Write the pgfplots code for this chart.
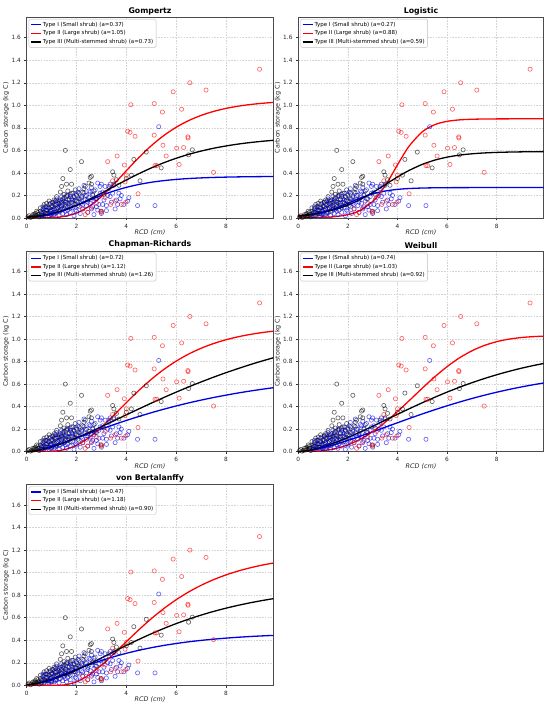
\documentclass[border=0pt]{standalone}
\usepackage{fontspec}
\setmainfont{DejaVu Sans}
\usepackage{pgfplots}
\usepackage{pgfplotstable}
\pgfplotsset{compat=1.18}

\definecolor{cblue}{RGB}{0,0,230}
\definecolor{cred}{RGB}{255,0,0}
\definecolor{cblack}{RGB}{0,0,0}

% ---------- scatter data (same in all panels) ----------
\pgfplotstableread{
x y
0.55 0.02
0.60 0.05
0.65 0.10
0.70 0.03
0.70 0.09
0.75 0.07
0.80 0.04
0.85 0.09
0.90 0.02
0.90 0.12
0.95 0.06
0.95 0.03
1.00 0.04
1.00 0.10
1.05 0.14
1.05 0.07
1.10 0.03
1.10 0.08
1.15 0.12
1.15 0.04
1.20 0.05
1.20 0.17
1.25 0.09
1.25 0.15
1.30 0.02
1.30 0.13
1.35 0.06
1.35 0.11
1.40 0.10
1.40 0.19
1.45 0.04
1.45 0.16
1.50 0.08
1.50 0.15
1.55 0.12
1.55 0.06
1.60 0.03
1.60 0.20
1.65 0.07
1.65 0.13
1.70 0.11
1.70 0.17
1.75 0.05
1.75 0.19
1.80 0.14
1.80 0.22
1.85 0.09
1.85 0.16
1.90 0.02
1.90 0.18
1.95 0.12
1.95 0.07
2.00 0.06
2.00 0.21
2.05 0.15
2.05 0.23
2.10 0.10
2.10 0.26
2.15 0.04
2.15 0.17
2.20 0.19
2.20 0.13
2.25 0.08
2.25 0.12
2.30 0.29
2.30 0.22
2.35 0.16
2.35 0.20
2.40 0.11
2.45 0.05
2.45 0.14
2.50 0.24
2.50 0.18
2.55 0.13
2.55 0.23
2.60 0.27
2.60 0.08
2.65 0.21
2.65 0.10
2.70 0.15
2.70 0.03
2.75 0.25
2.75 0.17
2.80 0.10
2.85 0.31
2.85 0.07
2.90 0.19
2.90 0.12
2.95 0.28
2.95 0.22
3.00 0.04
3.00 0.30
3.05 0.23
3.05 0.12
3.10 0.16
3.15 0.28
3.20 0.11
3.20 0.065
3.25 0.20
3.30 0.26
3.35 0.19
3.35 0.30
3.40 0.14
3.45 0.22
3.50 0.29
3.55 0.08
3.60 0.16
3.65 0.12
3.70 0.22
3.75 0.17
3.80 0.20
3.90 0.12
4.05 0.15
4.10 0.18
4.45 0.11
5.15 0.11
5.30 0.81
}\scI

\pgfplotstableread{
x y
3.25 0.50
3.63 0.55
3.92 0.47
3.95 0.32
4.00 0.38
3.45 0.33
4.05 0.77
4.15 0.76
4.18 1.005
4.35 0.725
5.12 1.015
5.12 0.735
5.15 0.465
5.22 0.465
5.45 0.94
5.47 0.645
5.60 0.55
5.88 1.12
6.02 0.62
6.12 0.475
6.22 0.965
6.30 0.625
6.47 0.72
6.48 0.71
6.55 1.20
7.20 1.135
7.50 0.405
9.35 1.32
3.55 0.15
3.80 0.12
3.98 0.14
4.47 0.215
3.37 0.12
2.97 0.06
3.00 0.05
2.25 0.08
2.45 0.05
2.60 0.09
2.35 0.03
3.15 0.18
2.80 0.13
}\scII

\pgfplotstableread{
x y
0.05 0.01
0.10 0.02
0.15 0.005
0.20 0.01
0.25 0.03
0.30 0.015
0.30 0.03
0.35 0.04
0.35 0.02
0.40 0.02
0.40 0.06
0.45 0.05
0.45 0.03
0.50 0.01
0.50 0.03
0.55 0.06
0.55 0.09
0.60 0.04
0.60 0.02
0.65 0.08
0.65 0.05
0.70 0.02
0.70 0.05
0.70 0.12
0.75 0.10
0.75 0.04
0.80 0.07
0.80 0.13
0.80 0.10
0.85 0.04
0.85 0.07
0.90 0.09
0.90 0.15
0.90 0.04
0.95 0.06
0.95 0.13
1.00 0.11
1.00 0.03
1.00 0.07
1.05 0.14
1.05 0.10
1.10 0.08
1.10 0.16
1.10 0.12
1.15 0.05
1.15 0.15
1.20 0.12
1.20 0.19
1.20 0.08
1.25 0.09
1.25 0.13
1.30 0.15
1.30 0.06
1.30 0.10
1.35 0.23
1.35 0.16
1.40 0.28
1.40 0.11
1.40 0.14
1.45 0.35
1.45 0.17
1.45 0.12
1.50 0.21
1.50 0.08
1.50 0.18
1.55 0.60
1.55 0.14
1.55 0.10
1.60 0.30
1.60 0.19
1.60 0.14
1.65 0.24
1.65 0.10
1.65 0.20
1.70 0.16
1.70 0.13
1.75 0.43
1.75 0.21
1.75 0.09
1.80 0.30
1.80 0.17
1.85 0.13
1.85 0.22
1.90 0.19
1.90 0.12
1.95 0.25
1.95 0.16
2.00 0.15
2.00 0.20
2.05 0.11
2.10 0.22
2.10 0.17
2.20 0.50
2.20 0.18
2.25 0.23
2.30 0.26
2.35 0.28
2.40 0.20
2.45 0.16
2.50 0.31
2.55 0.36
2.60 0.37
2.60 0.30
2.65 0.20
2.70 0.24
2.80 0.17
3.00 0.06
3.10 0.21
3.30 0.28
3.45 0.41
3.50 0.38
3.50 0.30
3.60 0.34
3.70 0.29
4.00 0.35
4.20 0.38
4.30 0.52
4.55 0.33
4.80 0.585
5.40 0.445
6.50 0.56
6.65 0.605
}\scIII

% ---------- fitted curves: x, Type I (b), Type II (r), Type III (k) ----------
\pgfplotstableread{
x b r k
0 0.0031 0.0000 0.0082
0.5 0.0124 0.0003 0.0199
1 0.0332 0.0029 0.0405
1.5 0.0668 0.0139 0.0717
2 0.1098 0.0440 0.1134
2.5 0.1563 0.1026 0.1637
3 0.2007 0.1907 0.2200
3.5 0.2397 0.3003 0.2788
4 0.2719 0.4194 0.3372
4.5 0.2973 0.5357 0.3927
5 0.3169 0.6409 0.4439
5.5 0.3315 0.7310 0.4898
6 0.3422 0.8050 0.5299
6.5 0.3501 0.8641 0.5645
7 0.3557 0.9101 0.5938
7.5 0.3598 0.9455 0.6186
8 0.3627 0.9723 0.6391
8.5 0.3648 0.9925 0.6562
9 0.3663 1.0075 0.6701
9.5 0.3674 1.0186 0.6815
9.9 0.3680 1.0254 0.6891
}\gomp

\pgfplotstableread{
x b r k
0 0.0142 0.0009 0.0205
0.5 0.0273 0.0022 0.0323
1 0.0501 0.0053 0.0502
1.5 0.0851 0.0126 0.0768
2 0.1302 0.0295 0.1144
2.5 0.1765 0.0677 0.1645
3 0.2140 0.1466 0.2262
3.25 0.2280 0.2080 0.2601
3.5 0.2391 0.2852 0.2950
3.75 0.2475 0.3750 0.3299
4 0.2538 0.4707 0.3638
4.25 0.2584 0.5636 0.3959
4.5 0.2617 0.6459 0.4255
5 0.2659 0.7645 0.4756
5.5 0.2679 0.8278 0.5132
6 0.2690 0.8575 0.5398
6.5 0.2695 0.8705 0.5578
7 0.2697 0.8760 0.5695
7.5 0.2699 0.8783 0.5771
8 0.2700 0.8793 0.5819
8.5 0.2700 0.8797 0.5849
9 0.2700 0.8799 0.5868
9.5 0.2700 0.8800 0.5880
9.9 0.2700 0.8800 0.5888
}\logi

\pgfplotstableread{
x b r k
0 0 0 0
0.5 0.0167 0.0001 0.0124
1 0.0469 0.0026 0.0403
1.5 0.0830 0.0176 0.0781
2 0.1220 0.0568 0.1225
2.5 0.1619 0.1248 0.1710
3 0.2015 0.2171 0.2220
3.5 0.2401 0.3238 0.2744
4 0.2772 0.4353 0.3270
4.5 0.3123 0.5430 0.3793
5 0.3456 0.6418 0.4305
5.5 0.3768 0.7292 0.4803
6 0.4058 0.8035 0.5284
6.5 0.4328 0.8662 0.5747
7 0.4576 0.9176 0.6189
7.5 0.4807 0.9595 0.6610
8 0.5018 0.9933 0.7011
8.5 0.5214 1.0202 0.7386
9 0.5392 1.0416 0.7745
9.5 0.5556 1.0585 0.8080
9.9 0.5676 1.0695 0.8332
}\chap

\pgfplotstableread{
x b r k
0 0 0 0
0.5 0.0125 0.0013 0.0146
1 0.0359 0.0090 0.0436
1.5 0.0659 0.0276 0.0817
2 0.1002 0.0608 0.1260
2.5 0.1376 0.1106 0.1747
3 0.1767 0.1776 0.2259
3.5 0.2167 0.2603 0.2787
4 0.2567 0.3556 0.3314
4.5 0.2963 0.4584 0.3835
5 0.3349 0.5630 0.4341
5.5 0.3718 0.6633 0.4824
6 0.4071 0.7544 0.5285
6.5 0.4404 0.8321 0.5716
7 0.4717 0.8946 0.6118
7.5 0.5008 0.9421 0.6486
8 0.5275 0.9759 0.6825
8.5 0.5521 0.9988 0.7130
9 0.5745 1.0129 0.7407
9.5 0.5949 1.0213 0.7652
9.9 0.6096 1.0251 0.7830
}\weib

\pgfplotstableread{
x b r k
0 0 0 0.0052
0.5 0.0200 0 0.0213
1 0.0567 0 0.0495
1.5 0.0988 0.0029 0.0883
2 0.1415 0.0304 0.1352
2.5 0.1822 0.0912 0.1875
3 0.2197 0.1780 0.2426
3.5 0.2537 0.2799 0.2986
4 0.2839 0.3870 0.3536
4.5 0.3104 0.4921 0.4067
5 0.3335 0.5907 0.4570
5.5 0.3536 0.6801 0.5039
6 0.3708 0.7592 0.5473
6.5 0.3858 0.8280 0.5868
7 0.3984 0.8871 0.6228
7.5 0.4093 0.9373 0.6552
8 0.4185 0.9794 0.6843
8.5 0.4265 1.0149 0.7102
9 0.4332 1.0440 0.7333
9.5 0.4388 1.0686 0.7538
9.9 0.4427 1.0849 0.7687
}\vonb

\pgfplotsset{
  panel/.style={
    scale only axis, width=246.6pt, height=200.6pt,
    xmin=0, xmax=9.9, ymin=0, ymax=1.78,
    xtick={0,2,4,6,8}, ytick={0,0.2,0.4,0.6,0.8,1.0,1.2,1.4,1.6},
    /pgf/number format/assume math mode=true,
    yticklabel style={/pgf/number format/.cd, fixed, fixed zerofill, precision=1},
    tick label style={font=\fontsize{5.8}{7}\selectfont, color=black!85},
    grid=major, grid style={dash pattern=on 1.6pt off 1.2pt, black!17, line width=0.45pt},
    axis line style={black!70, line width=0.55pt},
    tick align=outside, major tick length=2.3pt,
    tick style={black!80, line width=0.5pt},
    xtick pos=bottom, ytick pos=left,
    xlabel={\itshape RCD (cm)}, ylabel={Carbon storage (kg C)},
    label style={font=\fontsize{6.4}{7.5}\selectfont, color=black!85},
    xlabel style={yshift=5.5pt},
    ylabel style={yshift=-4.5pt},
    title style={font=\bfseries\fontsize{7.8}{9}\selectfont, yshift=-7pt},
    legend style={at={(0.008,0.992)}, anchor=north west,
      font=\fontsize{5.5}{6.4}\selectfont, draw=black!25, rounded corners=1.5pt,
      fill=white, inner xsep=1.5pt, inner ysep=1.4pt, row sep=0.3pt,
      nodes={inner sep=1.3pt}},
    legend cell align=left,
    legend image code/.code={\draw[#1, solid, line width=1.3pt] (0pt,0pt) -- (10pt,0pt);},
  },
  scat/.style={only marks, mark=o, mark size=2.1pt,
    mark options={line width=0.65pt, draw opacity=0.6}, forget plot},
  fit/.style={no marks, smooth, line width=1.3pt, forget plot},
}

\newcommand{\scatters}{%
  \addplot[scat, cblack] table {\scIII};
  \addplot[scat, cblue] table {\scI};
  \addplot[scat, cred] table {\scII};
}
\newcommand{\curves}[4]{%
  \addplot[fit, draw=cblue] table[x=x, y=b] {#1};
  \addplot[fit, draw=cred] table[x=x, y=r] {#1};
  \addplot[fit, draw=cblack] table[x=x, y=k] {#1};
  \addlegendimage{draw=cblue, line width=1.3pt}
  \addlegendentry{Type I (Small shrub) (a=#2)}
  \addlegendimage{draw=cred, line width=1.3pt}
  \addlegendentry{Type II (Large shrub) (a=#3)}
  \addlegendimage{draw=cblack, line width=1.3pt}
  \addlegendentry{Type III (Multi-stemmed shrub) (a=#4)}
}

\begin{document}
\begin{tikzpicture}
\useasboundingbox (0pt,0pt) rectangle (550pt,708pt);

\begin{axis}[panel, at={(26.7pt,490pt)}, anchor=south west, title={Gompertz}]
\scatters
\curves{\gomp}{0.37}{1.05}{0.73}
\end{axis}

\begin{axis}[panel, width=245.4pt, at={(298.3pt,490pt)}, anchor=south west, title={Logistic}]
\scatters
\curves{\logi}{0.27}{0.88}{0.59}
\end{axis}

\begin{axis}[panel, at={(26.7pt,256.3pt)}, anchor=south west, title={Chapman-Richards}]
\scatters
\curves{\chap}{0.72}{1.12}{1.26}
\end{axis}

\begin{axis}[panel, width=245.4pt, at={(298.3pt,256.3pt)}, anchor=south west, title={Weibull}]
\scatters
\curves{\weib}{0.74}{1.03}{0.92}
\end{axis}

\begin{axis}[panel, at={(26.7pt,22.7pt)}, anchor=south west, title={von Bertalanffy}]
\scatters
\curves{\vonb}{0.47}{1.18}{0.90}
\end{axis}
\end{tikzpicture}
\end{document}
